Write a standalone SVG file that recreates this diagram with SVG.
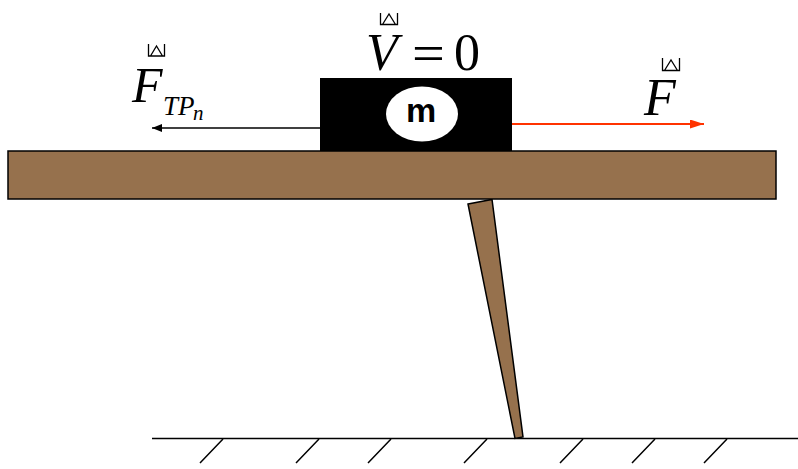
<svg xmlns="http://www.w3.org/2000/svg" width="798" height="469" viewBox="0 0 798 469">
<style>
.wood{fill:#96714d;stroke:#000;stroke-width:1.5}
.math{font-family:"Liberation Serif","Times New Roman",serif;fill:#000}
.it{font-style:italic}
.acc{fill:none;stroke:#000;stroke-width:1.3}
.gnd{stroke:#000;stroke-width:1.5;fill:none}
</style>
<defs>
<marker id="ahB" viewBox="0 0 10 8" refX="10" refY="4" markerWidth="10" markerHeight="8" markerUnits="userSpaceOnUse" orient="auto"><path d="M0,0 L10,4 L0,8 Z" fill="#000"/></marker>
<marker id="ahR" viewBox="0 0 14 9" refX="14" refY="4.5" markerWidth="14" markerHeight="9" markerUnits="userSpaceOnUse" orient="auto"><path d="M0,0 L14,4.5 L0,9 Z" fill="#ff3300"/></marker>
</defs>
<rect width="798" height="469" fill="#fff"/>
<g id="ground">
<line class="gnd" x1="152" y1="438.5" x2="798" y2="438.5"/>
<path class="gnd" d="M223,439 L200,463 M319,439 L296,463 M391,439 L368,463 M487,439 L464,463 M583,439 L560,463 M655,439 L632,463 M727,439 L704,463"/>
</g>
<g id="leg">
<polygon class="wood" points="468,204 492,199.5 523,437 515,438.5"/>
</g>
<g id="plank">
<rect class="wood" x="8" y="151" width="768" height="48"/>
</g>
<g id="block">
<rect x="320" y="78" width="192" height="73" fill="#000"/>
<ellipse cx="422" cy="114" rx="36" ry="27.5" fill="#fff"/>
<text x="421" y="122" text-anchor="middle" font-family="Liberation Sans, Arial, sans-serif" font-weight="bold" font-size="34" fill="#000">m</text>
</g>
<g id="connectors">
<line x1="320" y1="128" x2="152" y2="128" stroke="#000" stroke-width="1.5" marker-end="url(#ahB)"/>
<line x1="512" y1="124" x2="704" y2="124" stroke="#ff3300" stroke-width="2" marker-end="url(#ahR)"/>
</g>
<g id="label-V">
<path class="acc" d="M380.5,13 V24.5 H397.5 V13 M382.5,24.5 L389,14 L395.5,24.5"/>
<text class="math it" x="366" y="70" font-size="52">V</text>
<text class="math" font-size="52" transform="translate(412,71) scale(1.12,1)">=</text>
<text class="math" x="454" y="70" font-size="52">0</text>
</g>
<g id="label-F">
<path class="acc" d="M662.5,58 V70.5 H679.5 V58 M664.5,70.5 L671,60 L677.5,70.5"/>
<text class="math it" x="644" y="115" font-size="52">F</text>
</g>
<g id="label-FTPn">
<path class="acc" d="M148.5,44 V56 H164.5 V44 M150.5,56 L156.5,46 L162.5,56"/>
<text class="math it" x="132" y="102" font-size="50">F</text>
<text class="math it" x="163" y="115" font-size="27">TP</text>
<text class="math it" x="193" y="120" font-size="21">n</text>
</g>
</svg>
